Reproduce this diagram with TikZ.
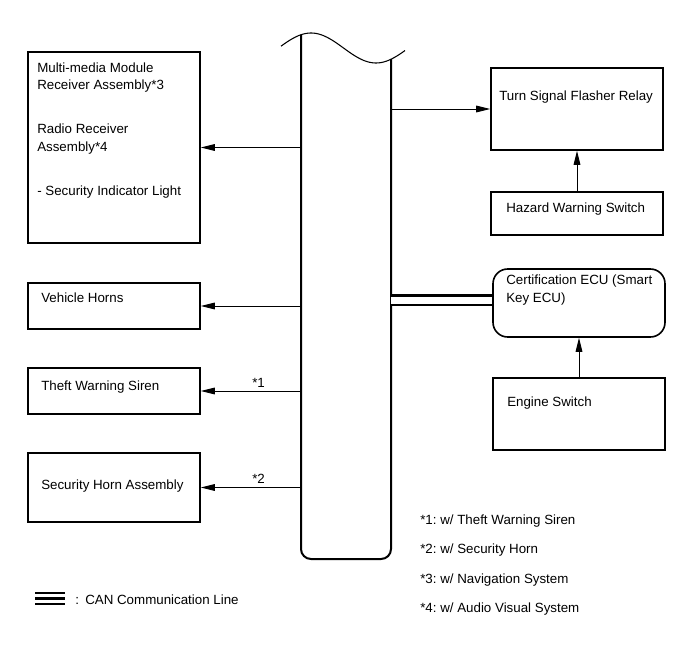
\documentclass[tikz,border=0pt]{standalone}
\usepackage{fontspec}
\setmainfont{Liberation Sans}
\usetikzlibrary{arrows.meta,fit}
\frenchspacing
\begin{document}
\begin{tikzpicture}[
  x=0.75pt,y=-0.75pt,
  box/.style={draw=black,line width=1.2pt,inner sep=0pt},
  ecubox/.style={box,rounded corners=11pt},
  bus/.style={draw=black,line width=1.5pt,rounded corners=7.5pt},
  wave/.style={draw=black,line width=0.8pt},
  arr/.style={draw=black,line width=0.7pt,-{Triangle[length=10.5pt,width=5pt]}},
  can/.style={draw=black,line width=1.8pt,double=white,double distance=5.25pt},
  txt/.style={font=\fontsize{10}{13}\selectfont,inner sep=0pt,align=left},
]
\useasboundingbox (0,0) rectangle (691,660);
\coordinate (busL) at (301,0);
\coordinate (busR) at (391,0);
\draw[wave] plot[domain=281:405,samples=60,smooth] (\x,{48-15*sin(2.7692*(\x-278.5))});
\draw[bus] (301,34.7) -- (301,559) -- (391,559) -- (391,59.2);
\node[box,fit={(28,52) (200,243)}] (mm) {};
\node[box,fit={(28,283) (200,329)}] (horn) {};
\node[box,fit={(28,368) (200,414)}] (siren) {};
\node[box,fit={(28,453) (200,522)}] (sechorn) {};
\node[box,fit={(491,68) (663,150)}] (relay) {};
\node[box,fit={(491,192) (663,235)}] (hazard) {};
\node[ecubox,fit={(493,269) (665,337)}] (ecu) {};
\node[box,fit={(493,378) (665,450)}] (engsw) {};
\node[txt,anchor=north west] (mmt) at (37,62.5)
  {Multi-media Module\\Receiver Assembly*3\\[20pt]Radio Receiver\\Assembly*4\\[20pt]- Security Indicator Light};
\node[txt,anchor=base west] (hornt) at (41,302.5) {Vehicle Horns};
\node[txt,anchor=base west] (sirent) at (41,390) {Theft Warning Siren};
\node[txt,anchor=base west] (sechornt) at (41,489.5) {Security Horn Assembly};
\node[txt,anchor=base west] (relayt) at (499,100) {Turn Signal Flasher Relay};
\node[txt,anchor=base west] (hazardt) at (506,212.5) {Hazard Warning Switch};
\node[txt,anchor=north west] (ecut) at (506,275) {Certification ECU (Smart\\Key ECU)};
\node[txt,anchor=base west] (engswt) at (507,406) {Engine Switch};
\draw[arr] (busL |- mm.east) -- (mm.east);
\draw[arr] (busL |- horn.east) -- (horn.east);
\draw[arr] (busL |- siren.east) -- (siren.east);
\draw[arr] (busL |- sechorn.east) -- (sechorn.east);
\draw[arr] (busR |- relay.west) -- (relay.west);
\draw[arr] (hazard) -- (relay);
\draw[arr] (engsw) -- (ecu);
\draw[can] ([yshift=2.25pt]busR |- ecu.west) -- ([yshift=2.25pt]ecu.west);
\node[txt,anchor=base west] (n1) at (252,387) {*1};
\node[txt,anchor=base west] (n2) at (252,483) {*2};
\node[txt,anchor=base west] (fn1) at (420,524) {*1: w/ Theft Warning Siren};
\node[txt,anchor=base west] (fn2) at (420,553.5) {*2: w/ Security Horn};
\node[txt,anchor=base west] (fn3) at (420,583) {*3: w/ Navigation System};
\node[txt,anchor=base west] (fn4) at (420,612) {*4: w/ Audio Visual System};
\foreach \dy in {-5.5,0,5.5}{
  \draw[line width=1.6pt] (35,{598.5+\dy}) -- (65,{598.5+\dy});
}
\node[txt,anchor=base west] (colon) at (75,604) {:};
\node[txt,anchor=base west] (cant) at (85,604) {CAN Communication Line};
\end{tikzpicture}
\end{document}
